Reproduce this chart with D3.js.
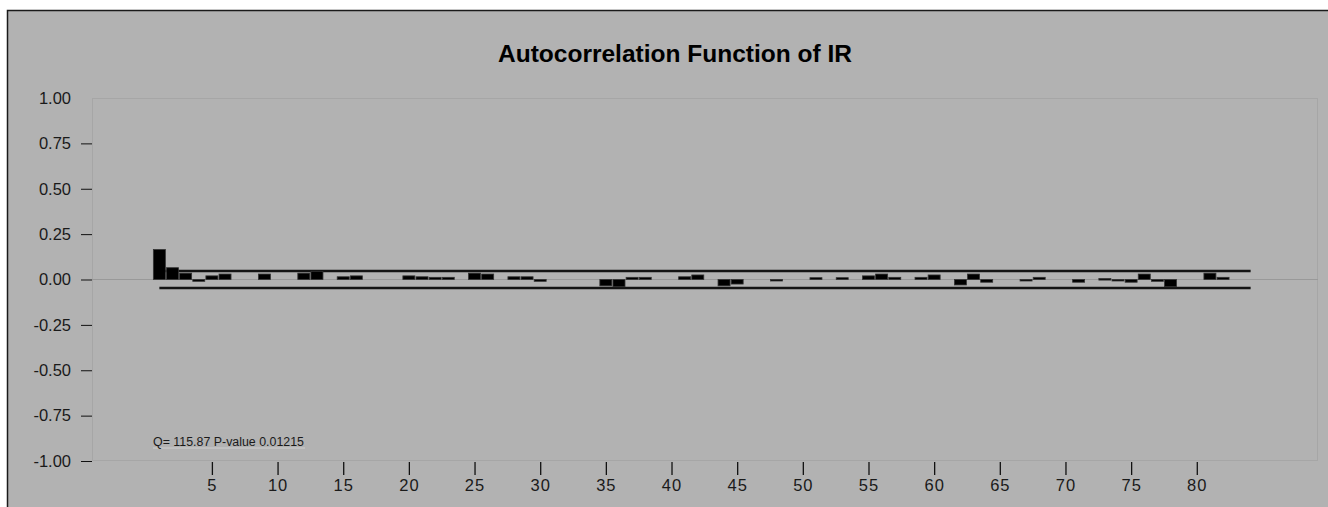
<!DOCTYPE html>
<html>
<head>
<meta charset="utf-8">
<script src="https://cdn.jsdelivr.net/npm/d3@7"></script>
<style>
  body { margin: 0; background: #fff; overflow: hidden; }
  svg { display: block; }
  text { font-family: "Liberation Sans", Arial, sans-serif; }
</style>
</head>
<body>
<svg width="1328" height="507"></svg>
<script>
// acf values (lag -> value)
var lags = [1, 2, 3, 4, 5, 6, 9, 12, 13, 15, 16, 20, 21, 22, 23, 25, 26, 28, 29, 30,
            35, 36, 37, 38, 41, 42, 44, 45, 48, 51, 53, 55, 56, 57, 59, 60, 62, 63, 64,
            67, 68, 71, 73, 74, 75, 76, 77, 78, 81, 82];
var acf = [0.165, 0.065, 0.035, -0.01, 0.02, 0.03, 0.03, 0.035, 0.045, 0.015, 0.02, 0.02, 0.015, 0.012, 0.012, 0.035, 0.03, 0.015, 0.015, -0.01,
           -0.035, -0.04, 0.012, 0.012, 0.015, 0.025, -0.035, -0.025, -0.005, 0.01, 0.01, 0.02, 0.03, 0.012, 0.012, 0.025, -0.03, 0.03, -0.015,
           -0.005, 0.012, -0.015, 0.005, -0.005, -0.015, 0.03, -0.01, -0.04, 0.035, 0.012];
var confBand = 0.047;
var bandLags = [1, 84.1];
var yTicks = [1, 0.75, 0.5, 0.25, 0, -0.25, -0.5, -0.75, -1];
var xTicks = [5, 10, 15, 20, 25, 30, 35, 40, 45, 50, 55, 60, 65, 70, 75, 80];
var titleText = "Autocorrelation Function of IR";
var statText = "Q= 115.87 P-value 0.01215";

var svg = d3.select("svg");

// outer panel
svg.append("rect").attr("x", 7).attr("y", 10).attr("width", 1321).attr("height", 497).attr("fill", "#b2b2b2");
svg.append("path").attr("d", "M7.5,507V10.5H1328").attr("fill", "none").attr("stroke", "#1a1a1a").attr("stroke-width", 1.5);

var x = d3.scaleLinear().domain([-4.13, 89.23]).range([92, 1318]);
var y = d3.scaleLinear().domain([-1, 1]).range([461, 98]);
var barW = 12;

// plot frame + zero line
svg.append("rect").attr("x", 92.5).attr("y", 98.5).attr("width", 1225).attr("height", 362)
  .attr("fill", "none").attr("stroke", "#a6a6a6").attr("stroke-width", 1);
svg.append("line").attr("x1", 92).attr("x2", 1318).attr("y1", y(0)).attr("y2", y(0))
  .attr("stroke", "#999").attr("stroke-width", 1);

// title
svg.append("text").attr("x", 675).attr("y", 62).attr("text-anchor", "middle")
  .attr("font-size", 23).attr("font-weight", "bold").attr("fill", "#000")
  .attr("textLength", 354).attr("lengthAdjust", "spacingAndGlyphs")
  .text(titleText);

// y axis, plain hyphen for negatives like the original
var fmt = d => d3.format(".2f")(d).replace("\u2212", "-");
var yAxis = svg.append("g").attr("transform", "translate(92,0)")
  .call(d3.axisLeft(y).tickValues(yTicks).tickFormat(fmt).tickSize(11).tickPadding(10));
yAxis.select(".domain").remove();
yAxis.selectAll("line").attr("stroke", "#111");
yAxis.selectAll("text").attr("font-size", 16.5).attr("fill", "#1a1a1a").attr("font-family", "Liberation Sans, Arial, sans-serif");
yAxis.selectAll(".tick").filter(d => d === 1).select("line").remove();

// x axis
var xAxis = svg.append("g").attr("transform", "translate(0,462)")
  .call(d3.axisBottom(x).tickValues(xTicks).tickFormat(d3.format("d")).tickSize(13).tickPadding(4));
xAxis.select(".domain").remove();
xAxis.selectAll("line").attr("stroke", "#111").attr("stroke-width", 1.3);
xAxis.selectAll("text").attr("font-size", 16.5).attr("fill", "#1a1a1a").attr("letter-spacing", 1)
  .attr("font-family", "Liberation Sans, Arial, sans-serif");

// confidence band lines
[confBand, -confBand].forEach(function(v) {
  svg.append("line").attr("x1", x(bandLags[0])).attr("x2", x(bandLags[1]))
    .attr("y1", y(v)).attr("y2", y(v)).attr("stroke", "#141414").attr("stroke-width", 2.5);
});

// bars
var bars = lags.map((l, i) => ({lag: l, v: acf[i]}));
svg.append("g").selectAll("rect").data(bars).enter().append("rect")
  .attr("x", d => x(d.lag) - barW / 2)
  .attr("width", barW)
  .attr("y", d => Math.min(y(d.v), y(0)))
  .attr("height", d => Math.max(1.5, Math.abs(y(d.v) - y(0))))
  .attr("fill", "#000")
  .attr("stroke", "#333").attr("stroke-width", 0.8);

// statistic box
svg.append("line").attr("x1", 153).attr("x2", 305).attr("y1", 448).attr("y2", 448)
  .attr("stroke", "#cfcfcf").attr("stroke-width", 1);
svg.append("text").attr("x", 153).attr("y", 446).attr("font-size", 12.5).attr("fill", "#1a1a1a")
  .attr("textLength", 151).attr("lengthAdjust", "spacingAndGlyphs")
  .text(statText);
</script>
</body>
</html>
